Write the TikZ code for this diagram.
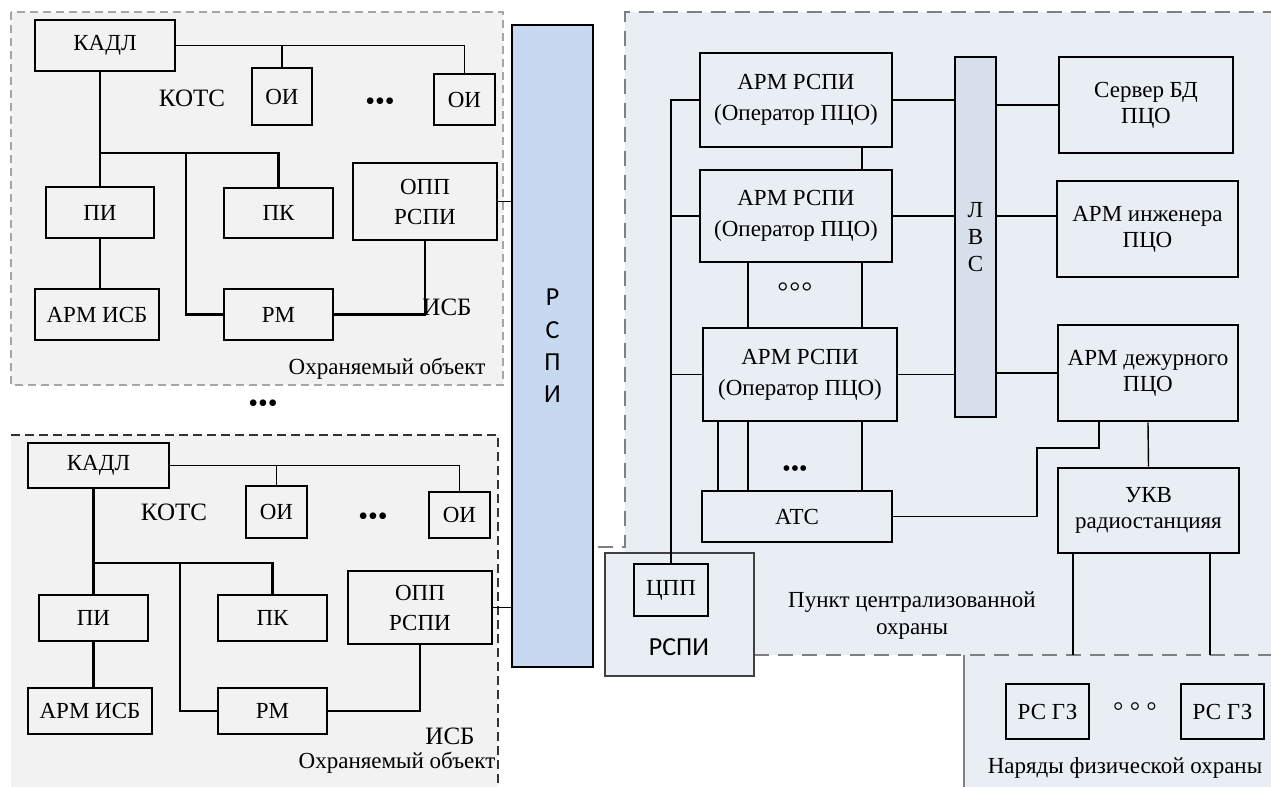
\documentclass[tikz,border=0pt]{standalone}
\usepackage{fontspec}
\setmainfont{Liberation Serif}
\newfontfamily\calib{Carlito}

\definecolor{objfill}{HTML}{F2F2F2}
\definecolor{pcofill}{HTML}{E9EEF5}
\definecolor{busfill}{HTML}{C6D9F0}
\definecolor{lvsfill}{HTML}{D6DFEA}
\definecolor{dashgray}{HTML}{7F7F7F}

\tikzset{
  wh/.style 2 args={minimum width=#1*0.5pt, minimum height=#2*0.5pt},
  blk/.style={draw, line width=1.3pt, inner sep=0pt, align=center},
}

\begin{document}
\begin{tikzpicture}[x=0.5pt, y=-0.5pt, font=\fontsize{11.5}{15}\selectfont]
        \useasboundingbox (0,0) rectangle (1271,787);
        \fill[white] (0,0) rectangle (1271,787);

        \fill[objfill] (11,12) rectangle (503,385);
        \draw[gray!70, line width=0.6pt, dash pattern=on 4pt off 2.5pt] (11,12) rectangle (503,385);
        \fill[objfill] (11,435) rectangle (498,787);
        \draw[black!80, line width=0.9pt, dash pattern=on 4.5pt off 2.5pt] (11,435) -- (498,435) -- (498,787);
        \fill[pcofill] (625,12) rectangle (1271,655);
        \fill[pcofill] (964,655) rectangle (1271,787);
        \draw[dashgray, line width=1pt, dash pattern=on 7.5pt off 4.5pt] (598,547) -- (625,547) -- (625,12) -- (1271,12);
        \draw[dashgray, line width=1pt, dash pattern=on 7.5pt off 4.5pt] (754,655) -- (1271,655);
        \draw[dashgray, line width=0.8pt] (964,655) -- (964,787);

        \node[draw, fill=busfill, line width=0.8pt, wh={81}{642}, align=center,
              font=\calib\fontsize{13}{16.2}\selectfont] (bus) at (552.5,346) {Р\\С\\П\\И};

        \begin{scope}[every node/.style={blk}]
            \node[wh={140}{51}] (kadlA) at (105,45.5) {КАДЛ};
            \node[wh={60}{57}] (oiA1) at (282,96.5) {ОИ};
            \node[wh={61}{51}] (oiA2) at (464.5,99.5) {ОИ};
            \node[wh={108}{51}] (piA) at (100,212.5) {ПИ};
            \node[wh={109}{50}] (pkA) at (278.5,213) {ПК};
            \node[wh={144}{77}] (oppA) at (425,201.5) {ОПП\\РСПИ};
            \node[wh={124}{51}] (armA) at (97,314.5) {АРМ ИСБ};
            \node[wh={109}{51}] (rmA) at (278.5,314.5) {РМ};

            \node[wh={141}{45}] (kadlB) at (98.5,465.5) {КАДЛ};
            \node[wh={61}{52}] (oiB1) at (276.5,512) {ОИ};
            \node[wh={61}{46}] (oiB2) at (459.5,515) {ОИ};
            \node[wh={109}{46}] (piB) at (93.5,618) {ПИ};
            \node[wh={109}{46}] (pkB) at (272.5,618) {ПК};
            \node[wh={144}{73}] (oppB) at (420,607.5) {ОПП\\РСПИ};
            \node[wh={124}{46}] (armB) at (90,711) {АРМ ИСБ};
            \node[wh={109}{46}] (rmB) at (272.5,711) {РМ};
        \end{scope}

        \begin{scope}[every node/.style={blk, font=\fontsize{11.5}{15.5}\selectfont}]
            \node[wh={192}{94}] (arm1) at (796,100) {АРМ РСПИ\\(Оператор ПЦО)};
            \node[wh={192}{92}] (arm2) at (796,216) {АРМ РСПИ\\(Оператор ПЦО)};
            \node[wh={194}{93}] (arm3) at (800,374.5) {АРМ РСПИ\\(Оператор ПЦО)};
            \node[wh={190}{51}] (atc) at (797,516.5) {АТС};
            \node[wh={174}{96}, font=\fontsize{11.5}{13}\selectfont] (srv) at (1146,105) {Сервер БД\\ПЦО};
            \node[wh={181}{96}, font=\fontsize{11.5}{13}\selectfont] (eng) at (1147.5,229) {АРМ инженера\\ПЦО};
            \node[wh={180}{96}, font=\fontsize{11.5}{13}\selectfont] (duty) at (1148,373) {АРМ дежурного\\ПЦО};
            \node[wh={181}{85}, font=\fontsize{11.5}{13}\selectfont] (ukv) at (1148.5,510.5) {УКВ\\радиостанцияя};
            \node[wh={41}{360}, fill=lvsfill, font=\fontsize{11.5}{13.5}\selectfont] (lvs) at (975.5,237) {Л\\В\\С};
            \node[wh={149}{123}, line width=0.8pt, draw=black!75, fill=pcofill] (rspiBox) at (679.5,614.5) {};
            \node[wh={74}{52}] (cpp) at (671,590) {ЦПП};
            \node[wh={83}{55}, line width=0.8pt] (rs1) at (1047.5,711.5) {РС ГЗ};
            \node[wh={83}{55}, line width=0.8pt] (rs2) at (1222.5,711.5) {РС ГЗ};
        \end{scope}

        \node (kotsA) at (192,98) {\fontsize{12.5}{15}\selectfont КОТС};
        \node (isbA) at (447,307) {\fontsize{12.5}{15}\selectfont ИСБ};
        \node (objA) at (387,369) {Охраняемый объект};
        \node (dotsA) at (380,104) {\fontsize{14}{15}\selectfont •••};
        \node (dotsMid) at (263,406) {\fontsize{14}{15}\selectfont •••};
        \node (kotsB) at (174,512) {\fontsize{12.5}{15}\selectfont КОТС};
        \node (isbB) at (450,736) {\fontsize{12.5}{15}\selectfont ИСБ};
        \node (objB) at (397,763) {Охраняемый объект};
        \node (dotsB) at (373,519) {\fontsize{14}{15}\selectfont •••};
        \node (rspiTxt) at (679,647) {\calib\fontsize{13}{15}\selectfont РСПИ};
        \node (dotsArm) at (795,290) {\fontsize{17}{15}\selectfont ◦◦◦};
        \node (dotsAtc) at (795,471) {\fontsize{12}{15}\selectfont •••};
        \node (dotsRs) at (1135,710) {\fontsize{16}{15}\selectfont ◦\,◦\,◦};
        \node[align=center, font=\fontsize{11.5}{13.5}\selectfont] (pco) at (912,616) {Пункт централизованной\\охраны};
        \node (naryad) at (1125,768) {Наряды физической охраны};

        \begin{scope}[line width=1.2pt]
            \draw[line width=0.8pt] (kadlA.east) -| (oiA2.north);
            \draw[line width=0.8pt] (oiA1.north) -- (oiA1.north |- kadlA.east);
            \draw (piA.north) -- (piA.north |- kadlA.south);
            \coordinate (jA) at (186,153);
            \draw (piA.north |- jA) -| (pkA.north);
            \draw (jA) |- (rmA.west);
            \draw (piA.south) -- (piA.south |- armA.north);
            \draw (oppA.south) |- (rmA.east);

            \draw[line width=0.8pt] (kadlB.east) -| (oiB2.north);
            \draw[line width=0.8pt] (oiB1.north) -- (oiB1.north |- kadlB.east);
            \coordinate (jB) at (180,563);
            \draw (piB.north) -- (piB.north |- kadlB.south);
            \draw (piB.north |- jB) -| (pkB.north);
            \draw (jB) |- (rmB.west);
            \draw (piB.south) -- (piB.south |- armB.north);
            \draw (oppB.south) |- (rmB.east);
        \end{scope}

        \begin{scope}[every edge/.style={draw, line width=0.7pt}]
            \path [-] (oppA.east) edge (oppA.east -| bus.west);
            \path [-] (oppB.east) edge (oppB.east -| bus.west);

            \coordinate (c1) at (862,0);
            \coordinate (c2) at (748,0);
            \coordinate (c3) at (718,0);
            \path [-] (arm1.south -| c1) edge (arm2.north -| c1);
            \path [-] (arm2.south -| c2) edge (arm3.north -| c2);
            \path [-] (arm2.south -| c1) edge (arm3.north -| c1);
            \path [-] (arm3.south -| c3) edge (atc.north -| c3);
            \path [-] (arm3.south -| c2) edge (atc.north -| c2);
            \path [-] (arm3.south -| c1) edge (atc.north -| c1);

            \path [-] (arm1.west) edge[to path={-| (\tikztotarget)}] (cpp.north);
            \path [-] (arm2.west) edge (arm2.west -| cpp.north);
            \path [-] (arm3.west) edge (arm3.west -| cpp.north);

            \path [-] (arm1.east) edge (arm1.east -| lvs.west);
            \path [-] (arm2.east) edge (arm2.east -| lvs.west);
            \path [-] (arm3.east) edge (arm3.east -| lvs.west);
            \path [-] (srv.west -| lvs.east) edge (srv.west);
            \path [-] (lvs.east |- arm2.east) edge (eng.west |- arm2.east);
            \path [-] (duty.west -| lvs.east) edge (duty.west);

            \path [-] (duty.south) edge (ukv.north);
            \coordinate (k1) at (1037,448);
            \coordinate (k2) at (1099,448);
            \draw[line width=0.7pt] (atc.east) -| (k1) -- (k2) -- (k2 |- duty.south);

            \coordinate (u1) at (1073,655);
            \coordinate (u2) at (1210,655);
            \path [-] (ukv.south -| u1) edge (u1);
            \path [-] (ukv.south -| u2) edge (u2);
        \end{scope}
    \end{tikzpicture}
\end{document}
